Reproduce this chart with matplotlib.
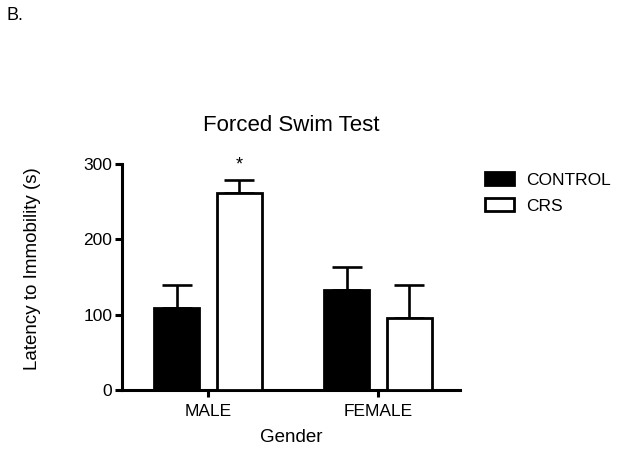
import numpy as np
import matplotlib.pyplot as plt
from matplotlib.patches import Patch

plt.rcParams['font.family'] = ['Liberation Sans', 'DejaVu Sans']

groups = ['MALE', 'FEMALE']
control_mean = [109, 133]
control_sem = [30, 30]
crs_mean = [261, 96]
crs_sem = [18, 43]

x = np.arange(len(groups))
w = 0.26
off = 0.185

fig = plt.figure(figsize=(6.21, 4.5), dpi=100)
ax = fig.add_axes([0.1965, 0.1333, 0.5442, 0.5022])

lw = 2.0
ax.bar(x - off, control_mean, w, color='black', edgecolor='black', linewidth=lw, zorder=3, label='CONTROL')
ax.bar(x + off, crs_mean, w, color='white', edgecolor='black', linewidth=lw, zorder=3, label='CRS')
# error bars, upper only
ax.errorbar(x - off, control_mean, yerr=[np.zeros(2), control_sem], fmt='none',
            ecolor='black', elinewidth=1.9, capsize=11, capthick=1.9, zorder=2)
ax.errorbar(x + off, crs_mean, yerr=[np.zeros(2), crs_sem], fmt='none',
            ecolor='black', elinewidth=1.9, capsize=11, capthick=1.9, zorder=2)

ax.text(x[0] + off, crs_mean[0] + crs_sem[0] + 8, '*', ha='center', va='bottom', fontsize=13)

ax.set_xlim(-0.506, 1.482)
ax.set_ylim(0, 300)
ax.set_yticks([0, 100, 200, 300])
ax.set_xticks(x)
ax.set_xticklabels(groups)
for s in ['top', 'right']:
    ax.spines[s].set_visible(False)
for s in ['left', 'bottom']:
    ax.spines[s].set_linewidth(2.2)
ax.tick_params(axis='both', width=2.2, length=5, labelsize=12.5, pad=2)
ax.tick_params(axis='x', pad=5)

ax.set_title('Forced Swim Test', fontsize=16, pad=24)
ax.set_xlabel('Gender', fontsize=13.5, labelpad=7.5)
ax.set_ylabel('Latency to Immobility (s)', fontsize=13.5)
ax.yaxis.set_label_coords(-0.24, 0.535)

handles = [Patch(facecolor='black', edgecolor='black', linewidth=lw),
           Patch(facecolor='white', edgecolor='black', linewidth=lw)]
fig.legend(handles, ['CONTROL', 'CRS'], loc='upper left', bbox_to_anchor=(0.767, 0.636),
           frameon=False, fontsize=12.5, borderpad=0, handlelength=1.65, handleheight=0.75,
           handletextpad=0.7, labelspacing=0.6)

fig.text(0.011, 0.985, 'B.', fontsize=13, va='top')

fig.savefig('out.png', dpi=100)
